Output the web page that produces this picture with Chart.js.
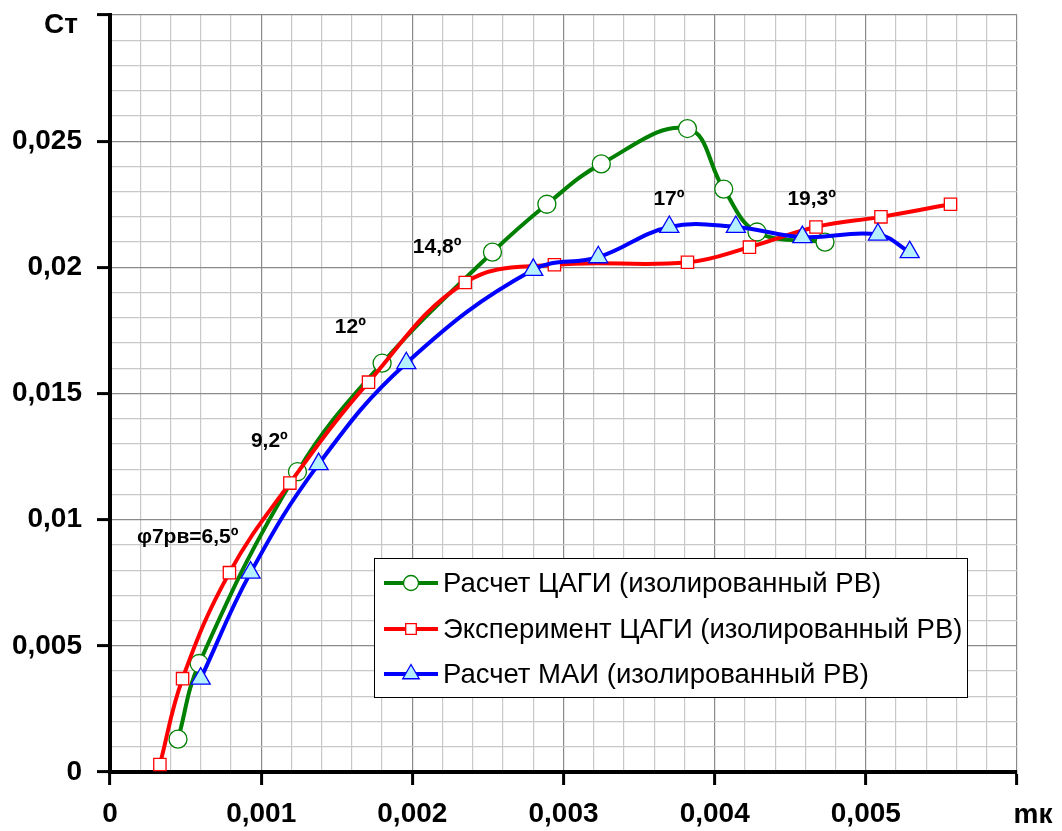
<!DOCTYPE html>
<html><head><meta charset="utf-8">
<script src="https://cdn.jsdelivr.net/npm/chart.js@4/dist/chart.umd.min.js"></script>
<style>html,body{margin:0;padding:0;background:#fff}canvas{display:block}</style>
</head><body>
<canvas id="c" width="1062" height="831"></canvas>
<script>
// ---- data ----
const seriesNames = ['Расчет ЦАГИ (изолированный РВ)', 'Эксперимент ЦАГИ (изолированный РВ)', 'Расчет МАИ (изолированный РВ)'];

const tsagiCalcX = [0.00045, 0.00059, 0.00124, 0.00180, 0.00253, 0.00289, 0.00325, 0.00382, 0.00406, 0.00428, 0.00473];
const tsagiCalcY = [0.0013, 0.0043, 0.0119, 0.0162, 0.0206, 0.0225, 0.0241, 0.0255, 0.0231, 0.0214, 0.0210];

const tsagiExpX = [0.00033, 0.00048, 0.00079, 0.00119, 0.00171, 0.00235, 0.00294, 0.00382, 0.00423, 0.00467, 0.00510, 0.00556];
const tsagiExpY = [0.0003, 0.0037, 0.0079, 0.01145, 0.01545, 0.0194, 0.0201, 0.0202, 0.0208, 0.0216, 0.0220, 0.0225];

const maiCalcX = [0.00060, 0.00093, 0.00138, 0.00196, 0.00280, 0.00323, 0.00370, 0.00414, 0.00458, 0.00508, 0.00529];
const maiCalcY = [0.0037, 0.0079, 0.0122, 0.0162, 0.0199, 0.0204, 0.0216, 0.0216, 0.0212, 0.0213, 0.0206];

const xTickLabels = ['0', '0,001', '0,002', '0,003', '0,004', '0,005', 'mк'];
const yTickLabels = ['0', '0,005', '0,01', '0,015', '0,02', '0,025', 'Ст'];

const angleLabels = ['φ7рв=6,5º', '9,2º', '12º', '14,8º', '17º', '19,3º'];
const angleLabelX = [0.000178, 0.000932, 0.001487, 0.002003, 0.003595, 0.004481];
const angleLabelY = [0.00931, 0.01311, 0.01763, 0.0208, 0.0227, 0.0227];

// ---- build ----
const toPts = (xs, ys) => xs.map((v, i) => ({x: v, y: ys[i]}));
const FONT = '"Liberation Sans", Arial, sans-serif';

const datasets = [
  {label: seriesNames[0], data: toPts(tsagiCalcX, tsagiCalcY), borderColor: '#008000', backgroundColor: '#ffffff',
   pointStyle: 'circle', pointRadius: 9, pointBorderWidth: 1.3, order: 2},
  {label: seriesNames[1], data: toPts(tsagiExpX, tsagiExpY), borderColor: '#ff0000', backgroundColor: '#ffffff',
   pointStyle: 'rect', pointRadius: 8.7, pointBorderWidth: 1.3, order: 1},
  {label: seriesNames[2], data: toPts(maiCalcX, maiCalcY), borderColor: '#0000ff', backgroundColor: '#b4f0ff',
   pointStyle: 'triangle', pointRadius: 11, pointBorderWidth: 1.3, order: 0}
].map(d => Object.assign({showLine: true, borderWidth: 4, tension: 0.4, pointHoverRadius: d.pointRadius,
  pointBackgroundColor: d.backgroundColor, pointBorderColor: d.borderColor}, d));

const overlay = {
  id: 'overlay',
  afterDraw(chart) {
    const {ctx, chartArea: a, scales: {x, y}} = chart;
    ctx.save();
    ctx.fillStyle = '#000';
    ctx.font = 'bold 28px ' + FONT;
    ctx.textBaseline = 'alphabetic';
    ctx.textAlign = 'right';
    ctx.fillText(yTickLabels[6], a.left - 32, a.top + 18);
    ctx.textAlign = 'center';
    ctx.fillText(xTickLabels[6], a.right + 16, a.bottom + 51);

    ctx.font = 'bold 21px ' + FONT;
    ctx.textAlign = 'left';
    ctx.textBaseline = 'middle';
    angleLabels.forEach((t, i) => ctx.fillText(t, x.getPixelForValue(angleLabelX[i]), y.getPixelForValue(angleLabelY[i])));

    // legend
    const L = 374, T = 558, R = 967, B = 697;
    ctx.fillStyle = '#fff';
    ctx.fillRect(L, T, R - L, B - T);
    ctx.strokeStyle = '#000';
    ctx.lineWidth = 1;
    ctx.strokeRect(L + 0.5, T + 0.5, R - L, B - T);
    const rows = [583, 629, 674];
    const legR = [7.5, 7.5, 9.5];
    ctx.font = '27.5px ' + FONT;
    datasets.forEach((d, i) => {
      const yy = rows[i];
      ctx.strokeStyle = d.borderColor;
      ctx.lineWidth = 4;
      ctx.beginPath(); ctx.moveTo(384, yy); ctx.lineTo(438, yy); ctx.stroke();
      ctx.fillStyle = d.backgroundColor;
      ctx.strokeStyle = d.borderColor;
      ctx.lineWidth = 1.3;
      Chart.helpers.drawPoint(ctx, {pointStyle: d.pointStyle, radius: legR[i], borderWidth: 1.3, rotation: 0}, 411, yy);
      ctx.fillStyle = '#000';
      ctx.textAlign = 'left';
      ctx.textBaseline = 'middle';
      ctx.fillText(d.label, 443, yy + 1);
    });
    ctx.restore();
  }
};

const majorColor = c => (c.index % 5 === 0 ? '#8a8a8a' : '#c8c8c8');
const tickCol = c => (c.index % 5 === 0 ? '#000' : 'rgba(0,0,0,0)');

new Chart(document.getElementById('c'), {
  type: 'scatter',
  data: {datasets},
  plugins: [overlay],
  options: {
    responsive: false,
    animation: false,
    devicePixelRatio: 1,
    layout: {padding: {top: 15, right: 45, left: 0, bottom: 0}},
    plugins: {legend: {display: false}, tooltip: {enabled: false}},
    scales: {
      x: {
        type: 'linear', min: 0, max: 0.006,
        afterFit: s => { s.height = 59; s.paddingLeft = 0; s.paddingRight = 0; },
        border: {display: true, color: '#000', width: 4},
        grid: {color: majorColor, lineWidth: 1.2, tickColor: tickCol, tickLength: 13, tickWidth: 3},
        ticks: {stepSize: 0.0002, autoSkip: false, maxRotation: 0, padding: 12, color: '#000',
          font: {family: FONT, size: 28, weight: 'bold'},
          callback: (v, i) => (i % 5 === 0 && i / 5 < 6 ? xTickLabels[i / 5] : '')}
      },
      y: {
        type: 'linear', min: 0, max: 0.03,
        afterFit: s => { s.width = 110; s.paddingTop = 0; s.paddingBottom = 0; },
        border: {display: true, color: '#000', width: 4},
        grid: {color: majorColor, lineWidth: 1.2, tickColor: tickCol, tickLength: 13, tickWidth: 3},
        ticks: {stepSize: 0.001, autoSkip: false, padding: 15, color: '#000',
          font: {family: FONT, size: 28, weight: 'bold'},
          callback: (v, i) => (i % 5 === 0 && i / 5 < 6 ? yTickLabels[i / 5] : '')}
      }
    }
  }
});
</script>
</body></html>
